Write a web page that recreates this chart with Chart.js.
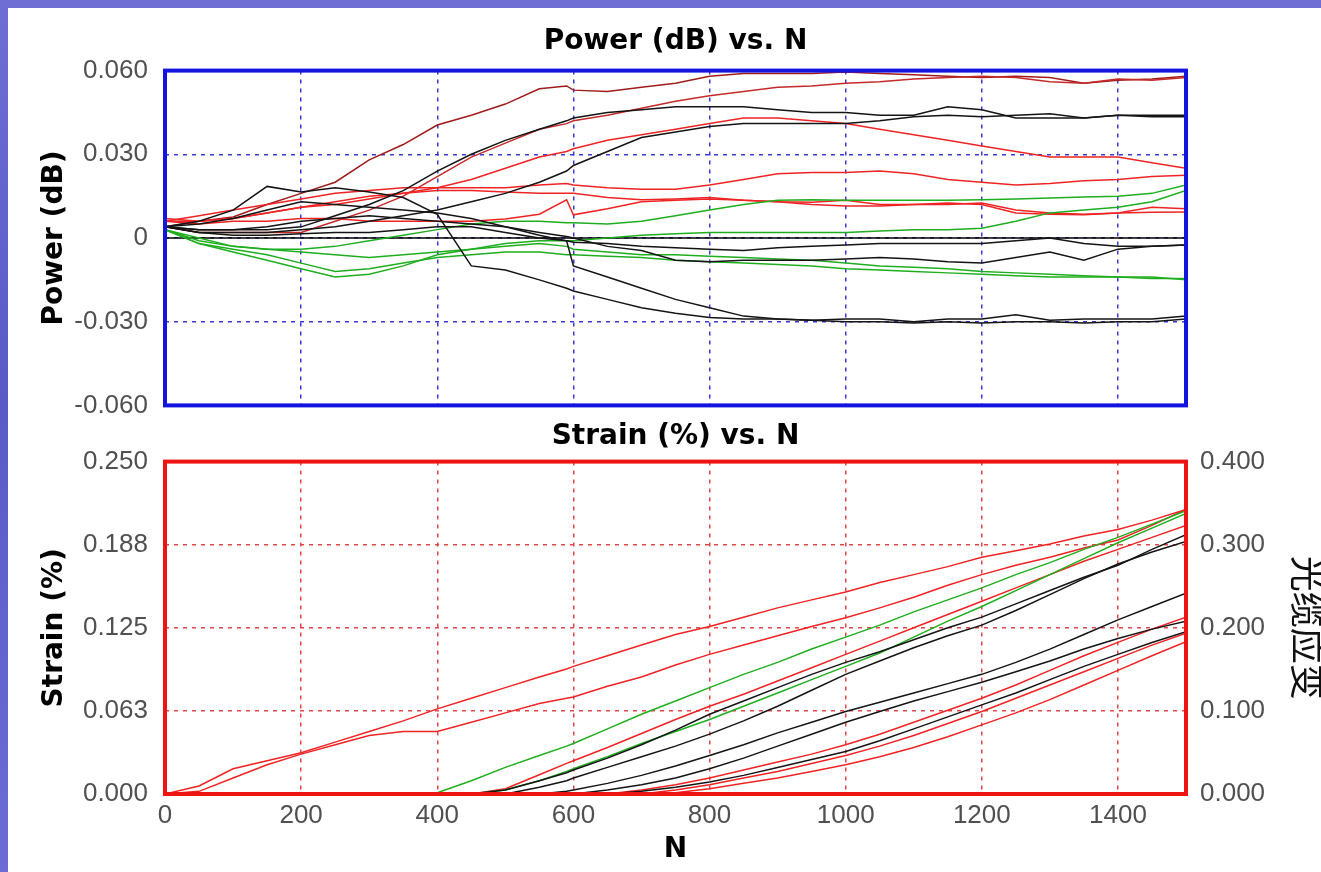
<!DOCTYPE html>
<html><head><meta charset="utf-8">
<script src="https://cdn.jsdelivr.net/npm/chart.js@4.4.1/dist/chart.umd.min.js"></script>
<style>
html,body{margin:0;padding:0;width:1321px;height:872px;overflow:hidden;}
body{background:linear-gradient(180deg,#6e6ed4 0%,#5a5ac6 45%,#6c6cd4 100%);position:relative;}
#paper{position:absolute;left:8px;top:8px;right:0;bottom:0;background:#fff;}
#c1{position:absolute;left:0;top:0;}
#c2{position:absolute;left:0;top:415px;}
</style></head><body>
<div id="paper"></div>
<canvas id="c1" width="1321" height="438"></canvas>
<canvas id="c2" width="1321" height="457"></canvas>
<script>
// ---------- shared N axis ----------
const N = [0,50,100,150,200,250,300,350,400,450,500,550,590,600,650,700,750,800,850,900,950,1000,1050,1100,1150,1200,1250,1300,1350,1400,1450,1500];
const xTickLabels = ['0','200','400','600','800','1000','1200','1400'];

// ---------- Power (dB) vs N ----------
const powerTickLabels = ['-0.060','-0.030','0','0.030','0.060'];
const powA = [0.004,0.006,0.0075,0.012,0.016,0.020,0.028,0.0335,0.0405,0.044,0.048,0.0535,0.0545,0.053,0.0525,0.054,0.0555,0.058,0.059,0.059,0.059,0.0595,0.059,0.0585,0.058,0.0575,0.058,0.0575,0.0555,0.0565,0.057,0.058];
const powB = [0.004,0.002,0.002,0.002,0.002,0.006,0.010,0.015,0.022,0.029,0.034,0.039,0.041,0.042,0.044,0.0465,0.049,0.051,0.0525,0.054,0.0545,0.0555,0.056,0.057,0.0575,0.058,0.0575,0.056,0.0555,0.057,0.0565,0.0575];
const powC = [0.004,0.003,0.003,0.003,0.004,0.008,0.012,0.017,0.024,0.030,0.035,0.039,0.042,0.043,0.045,0.046,0.047,0.047,0.047,0.046,0.045,0.045,0.044,0.044,0.047,0.046,0.043,0.043,0.043,0.044,0.044,0.044];
const powD = [0.004,0.002,0.002,0.002,0.003,0.004,0.006,0.008,0.010,0.013,0.016,0.020,0.024,0.026,0.031,0.036,0.038,0.040,0.041,0.041,0.041,0.041,0.042,0.0435,0.044,0.0435,0.044,0.0445,0.043,0.044,0.0435,0.0435];
const powE = [0.006,0.006,0.007,0.009,0.011,0.012,0.014,0.016,0.018,0.021,0.025,0.029,0.031,0.032,0.035,0.037,0.039,0.041,0.043,0.043,0.042,0.041,0.039,0.037,0.035,0.033,0.031,0.029,0.029,0.029,0.027,0.025];
const powF = [0.006,0.008,0.010,0.012,0.014,0.016,0.017,0.018,0.018,0.018,0.018,0.019,0.0195,0.019,0.018,0.0175,0.0175,0.019,0.021,0.023,0.0235,0.0235,0.024,0.023,0.021,0.020,0.019,0.0195,0.0205,0.021,0.022,0.0225];
const powG = [0.003,0.000,-0.003,-0.004,-0.004,-0.003,-0.001,0.001,0.003,0.005,0.006,0.006,0.0055,0.0055,0.005,0.006,0.008,0.010,0.012,0.0135,0.0137,0.0135,0.0135,0.0135,0.0135,0.0137,0.014,0.0143,0.0147,0.015,0.016,0.019];
const powH = [0.003,-0.002,-0.005,-0.008,-0.011,-0.014,-0.013,-0.010,-0.006,-0.004,-0.002,-0.001,-0.001,-0.001,0.000,0.001,0.0015,0.002,0.002,0.002,0.002,0.002,0.0025,0.003,0.003,0.0035,0.006,0.009,0.010,0.011,0.013,0.017];
const powI = [0.007,0.006,0.007,0.009,0.011,0.013,0.015,0.016,0.017,0.017,0.0165,0.016,0.016,0.016,0.0145,0.0137,0.014,0.0145,0.0135,0.013,0.0128,0.0135,0.012,0.012,0.0125,0.012,0.009,0.0085,0.0083,0.009,0.0092,0.0093];
const powJ = [0.006,0.005,0.006,0.006,0.007,0.007,0.006,0.006,0.006,0.006,0.0068,0.0085,0.0137,0.0083,0.0105,0.013,0.0135,0.014,0.0135,0.013,0.012,0.0115,0.0115,0.012,0.012,0.0125,0.010,0.009,0.0085,0.009,0.011,0.0105];
const powK = [0.004,0.006,0.010,0.0185,0.0165,0.018,0.0165,0.0145,0.0085,-0.010,-0.0115,-0.015,-0.018,-0.019,-0.022,-0.025,-0.027,-0.0285,-0.029,-0.029,-0.0295,-0.029,-0.029,-0.030,-0.029,-0.029,-0.0275,-0.0295,-0.029,-0.029,-0.029,-0.028];
const powL = [0.004,0.005,0.007,0.010,0.013,0.012,0.011,0.010,0.009,0.007,0.004,0.001,-0.001,-0.010,-0.014,-0.018,-0.022,-0.025,-0.028,-0.029,-0.0295,-0.030,-0.030,-0.0305,-0.030,-0.0305,-0.030,-0.030,-0.0305,-0.030,-0.030,-0.029];
const powM = [0.004,0.003,0.003,0.004,0.006,0.007,0.008,0.007,0.006,0.005,0.004,0.002,0.0005,0,-0.003,-0.0045,-0.008,-0.0085,-0.008,-0.008,-0.008,-0.0075,-0.007,-0.0075,-0.0085,-0.009,-0.007,-0.005,-0.008,-0.004,-0.003,-0.0025];
const powN = [0.004,0.002,0.001,0.001,0.0015,0.002,0.002,0.003,0.004,0.004,0.002,0,-0.001,-0.0015,-0.002,-0.003,-0.0035,-0.004,-0.0045,-0.0035,-0.003,-0.0025,-0.002,-0.002,-0.002,-0.002,-0.001,0,-0.002,-0.003,-0.003,-0.0025];
const powO = [0.003,-0.002,-0.004,-0.006,-0.009,-0.012,-0.011,-0.009,-0.007,-0.006,-0.005,-0.005,-0.006,-0.006,-0.0065,-0.007,-0.008,-0.0085,-0.009,-0.0095,-0.010,-0.011,-0.0115,-0.012,-0.0125,-0.013,-0.0135,-0.014,-0.014,-0.014,-0.0145,-0.0145];
const powP = [0.003,-0.001,-0.003,-0.004,-0.005,-0.006,-0.007,-0.006,-0.005,-0.004,-0.003,-0.002,-0.003,-0.004,-0.005,-0.006,-0.006,-0.0065,-0.007,-0.0075,-0.008,-0.009,-0.010,-0.0105,-0.011,-0.012,-0.0125,-0.013,-0.0135,-0.014,-0.014,-0.015];

// ---------- Strain (%) vs N ----------
const strainTickLabels = ['0.000','0.063','0.125','0.188','0.250'];
const rightTickLabels = ['0.000','0.100','0.200','0.300','0.400'];
const strA = [0,0.006,0.019,0.025,0.031,0.039,0.047,0.055,0.064,0.072,0.080,0.088,0.094,0.096,0.104,0.112,0.120,0.126,0.133,0.140,0.146,0.152,0.159,0.165,0.171,0.178,0.183,0.188,0.194,0.199,0.206,0.214];
const strB = [0,0.002,0.012,0.022,0.030,0.037,0.044,0.047,0.047,0.054,0.061,0.068,0.072,0.073,0.081,0.088,0.097,0.105,0.112,0.119,0.126,0.1325,0.140,0.148,0.157,0.165,0.172,0.178,0.185,0.191,0.202,0.214];
const strC = [0,0,0,0,0,0,0,0,0.001,0.010,0.020,0.029,0.036,0.038,0.049,0.060,0.070,0.080,0.090,0.099,0.109,0.118,0.127,0.137,0.146,0.155,0.165,0.174,0.184,0.193,0.203,0.213];
const strD = [0,0,0,0,0,0,0,0,0,0,0.003,0.010,0.017,0.019,0.028,0.038,0.047,0.056,0.066,0.076,0.086,0.096,0.106,0.118,0.130,0.141,0.153,0.165,0.177,0.189,0.200,0.211];
const strE = [0,0,0,0,0,0,0,0,0,0,0.004,0.0145,0.023,0.025,0.035,0.0455,0.056,0.066,0.075,0.085,0.095,0.105,0.115,0.125,0.135,0.145,0.155,0.165,0.175,0.184,0.193,0.202];
const strF = [0,0,0,0,0,0,0,0,0,0,0.003,0.010,0.016,0.018,0.027,0.037,0.048,0.060,0.070,0.080,0.090,0.099,0.107,0.116,0.125,0.133,0.143,0.153,0.163,0.172,0.184,0.195];
const strG = [0,0,0,0,0,0,0,0,0,0,0,0.005,0.010,0.012,0.020,0.028,0.036,0.045,0.055,0.066,0.078,0.090,0.100,0.110,0.119,0.127,0.138,0.150,0.162,0.173,0.182,0.190];
const strH = [0,0,0,0,0,0,0,0,0,0,0,0,0.002,0.003,0.008,0.014,0.021,0.029,0.037,0.046,0.054,0.062,0.069,0.076,0.083,0.090,0.099,0.109,0.120,0.131,0.141,0.151];
const strI = [0,0,0,0,0,0,0,0,0,0,0,0,0,0,0.003,0.007,0.012,0.019,0.027,0.036,0.045,0.054,0.062,0.070,0.077,0.084,0.092,0.100,0.109,0.117,0.124,0.130];
const strJ = [0,0,0,0,0,0,0,0,0,0,0,0,0,0,0,0.003,0.007,0.012,0.018,0.024,0.030,0.037,0.045,0.054,0.063,0.072,0.082,0.093,0.104,0.114,0.124,0.133];
const strK = [0,0,0,0,0,0,0,0,0,0,0,0,0,0,0,0.002,0.005,0.009,0.014,0.020,0.026,0.032,0.040,0.049,0.058,0.067,0.076,0.086,0.096,0.105,0.114,0.122];
const strL = [0,0,0,0,0,0,0,0,0,0,0,0,0,0,0,0,0.003,0.007,0.012,0.017,0.023,0.029,0.036,0.044,0.053,0.062,0.072,0.082,0.092,0.102,0.112,0.121];
const strM = [0,0,0,0,0,0,0,0,0,0,0,0,0,0,0,0,0.001,0.004,0.008,0.012,0.017,0.022,0.028,0.035,0.043,0.052,0.061,0.071,0.082,0.093,0.104,0.1145];

const BLACK = '#141414', RED = '#ee2424', DRED = '#a01c1c', GREEN = '#1fae1f';
const pts = arr => N.map((n, i) => ({x: n, y: arr[i]}));
const ds = (arr, color) => ({data: pts(arr), borderColor: color, borderWidth: 1.5, pointRadius: 0, tension: 0, fill: false});

const frame = {
  id: 'frame',
  beforeDatasetsDraw(chart, args, o) {
    if (!o.zero) return;
    const ctx = chart.ctx, a = chart.chartArea, y = chart.scales.y.getPixelForValue(0);
    ctx.save(); ctx.strokeStyle = '#000'; ctx.lineWidth = 1.6;
    ctx.beginPath(); ctx.moveTo(a.left, y); ctx.lineTo(a.right, y); ctx.stroke(); ctx.restore();
  },
  afterDatasetsDraw(chart, args, o) {
    const ctx = chart.ctx, a = chart.chartArea;
    ctx.save(); ctx.strokeStyle = o.color; ctx.lineWidth = 4;
    ctx.strokeRect(a.left, a.top, a.right - a.left, a.bottom - a.top); ctx.restore();
  }
};

const TICKFONT = {family: "'Liberation Sans', Arial, sans-serif", size: 26};
const BOLD = {family: "'DejaVu Sans', sans-serif", size: 28, weight: 'bold'};
const TICKCOLOR = '#505050';

// ---------- top chart ----------
new Chart(document.getElementById('c1'), {
  type: 'line',
  data: {datasets: [
    ds(powK, BLACK), ds(powL, BLACK), ds(powM, BLACK), ds(powN, BLACK), ds(powC, BLACK), ds(powD, BLACK),
    ds(powG, GREEN), ds(powH, GREEN), ds(powO, GREEN), ds(powP, GREEN),
    ds(powE, RED), ds(powF, RED), ds(powI, RED), ds(powJ, RED), ds(powB, '#c42a2a'), ds(powA, DRED)
  ]},
  plugins: [frame],
  options: {
    responsive: false, animation: false, devicePixelRatio: 1,
    layout: {padding: {left: 0, right: 135, top: 0, bottom: 0}},
    plugins: {
      legend: {display: false}, tooltip: {enabled: false},
      title: {display: true, text: 'Power (dB) vs. N', fullSize: false, color: '#000', font: BOLD, padding: {top: 25, bottom: 12}},
      frame: {color: '#1414e0', zero: true}
    },
    scales: {
      x: {type: 'linear', min: 0, max: 1500,
        ticks: {display: false, stepSize: 200, includeBounds: false},
        grid: {color: '#3a3ad8', lineWidth: 1.5, drawTicks: false},
        border: {display: false, dash: [4, 5]},
        afterFit: s => { s.height = 15; }
      },
      y: {type: 'linear', min: -0.06, max: 0.06,
        ticks: {stepSize: 0.03, color: TICKCOLOR, font: TICKFONT, padding: 17,
          callback: (v) => powerTickLabels[Math.round((v + 0.06) / 0.03)]},
        grid: {color: '#3a3ad8', lineWidth: 1.5, drawTicks: false},
        border: {display: false, dash: [4, 5]},
        title: {display: true, text: 'Power (dB)', color: '#000', font: BOLD, padding: {top: 38, bottom: 0}},
        afterFit: s => { s.width = 165; }
      }
    }
  }
});

// ---------- bottom chart ----------
new Chart(document.getElementById('c2'), {
  type: 'line',
  data: {datasets: [
    ds(strF, BLACK), ds(strG, BLACK), ds(strH, BLACK), ds(strI, BLACK), ds(strK, BLACK),
    ds(strC, GREEN), ds(strD, GREEN),
    ds(strA, RED), ds(strB, RED), ds(strE, RED), ds(strJ, RED), ds(strL, RED), ds(strM, RED)
  ]},
  plugins: [frame],
  options: {
    responsive: false, animation: false, devicePixelRatio: 1,
    layout: {padding: 0},
    plugins: {
      legend: {display: false}, tooltip: {enabled: false},
      title: {display: true, text: 'Strain (%) vs. N', fullSize: false, color: '#000', font: BOLD, padding: {top: 5, bottom: 8}},
      frame: {color: '#ee1414', zero: false}
    },
    scales: {
      x: {type: 'linear', min: 0, max: 1500,
        ticks: {stepSize: 200, includeBounds: false, color: TICKCOLOR, font: TICKFONT, padding: 6, maxRotation: 0,
          callback: (v) => xTickLabels[Math.round(v / 200)]},
        grid: {color: '#e04848', lineWidth: 1.5, drawTicks: false},
        border: {display: false, dash: [4, 5]},
        title: {display: true, text: 'N', color: '#000', font: BOLD, padding: {top: 0, bottom: 5}},
        afterFit: s => { s.height = 78; }
      },
      y: {type: 'linear', min: 0, max: 0.25, position: 'left',
        ticks: {stepSize: 0.0625, color: TICKCOLOR, font: TICKFONT, padding: 17,
          callback: (v) => strainTickLabels[Math.round(v / 0.0625)]},
        grid: {color: '#e04848', lineWidth: 1.5, drawTicks: false},
        border: {display: false, dash: [4, 5]},
        title: {display: true, text: 'Strain (%)', color: '#000', font: BOLD, padding: {top: 38, bottom: 0}},
        afterFit: s => { s.width = 165; }
      },
      y2: {type: 'linear', min: 0, max: 0.4, position: 'right',
        ticks: {stepSize: 0.1, color: TICKCOLOR, font: TICKFONT, padding: 14,
          callback: (v) => rightTickLabels[Math.round(v / 0.1)]},
        grid: {display: false, drawTicks: false},
        border: {display: false},
        title: {display: true, text: '光缆应变', color: '#111', font: {family: "'Noto Sans CJK SC', sans-serif", size: 36, lineHeight: 0.75}, padding: {top: 0, bottom: 0}},
        afterFit: s => { s.width = 135; }
      }
    }
  }
});
</script>
</body></html>
